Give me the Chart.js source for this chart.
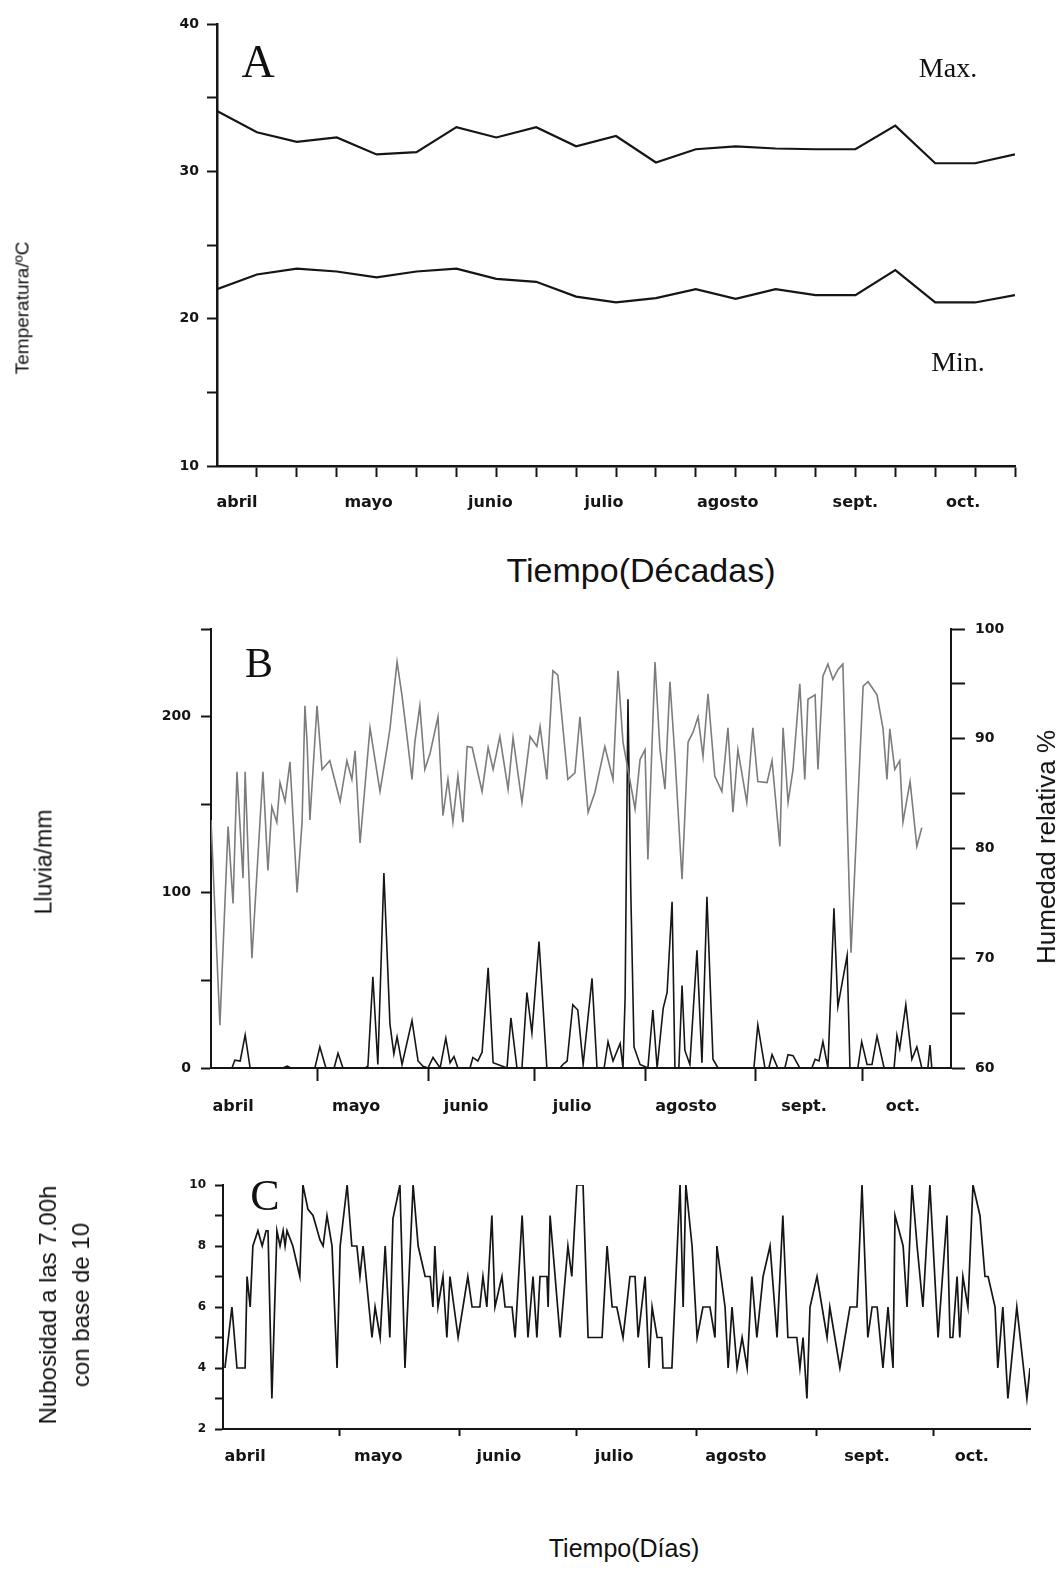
<!DOCTYPE html>
<html><head><meta charset="utf-8">
<script src="https://cdn.jsdelivr.net/npm/chart.js@4.4.0/dist/chart.umd.min.js"></script>
<style>
body{margin:0;background:#fff;width:1058px;height:1571px;position:relative;overflow:hidden;}
canvas{position:absolute;left:0;}
.t{position:absolute;white-space:nowrap;color:#111;transform:translate(-50%,-50%);line-height:1;}
.r{transform:translate(-50%,-50%) rotate(-90deg);}
.serif{font-family:'Liberation Serif','DejaVu Serif',serif;}
.sans{font-family:'Liberation Sans',Arial,sans-serif;}
</style></head><body>
<canvas id="cA" width="1058" height="530" style="top:0px;width:1058px;height:530px"></canvas>
<canvas id="cB" width="1058" height="540" style="top:600px;width:1058px;height:540px"></canvas>
<canvas id="cC" width="1058" height="360" style="top:1140px;width:1058px;height:360px"></canvas>

<div class="t serif" style="left:258px;top:62px;font-size:46px;">A</div>
<div class="t serif" style="left:948px;top:68px;font-size:28px;">Max.</div>
<div class="t serif" style="left:958px;top:362px;font-size:28px;">Min.</div>
<div class="t sans r" style="left:22px;top:308px;font-size:19px;">Temperatura/ºC</div>
<div class="t sans" style="left:641px;top:570px;font-size:34px;">Tiempo(Décadas)</div>

<div class="t serif" style="left:259px;top:663px;font-size:42px;">B</div>
<div class="t sans r" style="left:44px;top:862px;font-size:23px;">Lluvia/mm</div>
<div class="t sans r" style="left:1046px;top:847px;font-size:26px;">Humedad relativa %</div>

<div class="t serif" style="left:265px;top:1196px;font-size:44px;">C</div>
<div class="t sans r" style="left:64px;top:1305px;font-size:24px;line-height:33px;text-align:center;">Nubosidad a las 7.00h<br>con base de 10</div>
<div class="t sans" style="left:624px;top:1548px;font-size:25px;">Tiempo(Días)</div>

<script>
// ---------------- DATA ----------------
const months = ['abril','mayo','junio','julio','agosto','sept.','oct.'];

// Panel A: decades (index 0 = 1st decade of April ... 20 = 3rd decade of October)
const decadeIndex = [0,1,2,3,4,5,6,7,8,9,10,11,12,13,14,15,16,17,18,19,20];
const tempMax = [34.1,32.65,32.0,32.3,31.15,31.3,33.0,32.3,33.0,31.7,32.4,30.6,31.5,31.7,31.55,31.5,31.5,33.1,30.55,30.55,31.15];
const tempMin = [22.0,23.0,23.4,23.2,22.8,23.2,23.4,22.7,22.5,21.5,21.1,21.4,22.0,21.35,22.0,21.6,21.6,23.3,21.1,21.1,21.6];
const tempTicks = [10,20,30,40];
const tempMinorTicks = [15,25,35];

// Panel B: days from 1 April
const humDay = [0,2.5,4.8,6.2,7.3,9.0,9.6,11.5,14.6,16.0,17.1,18.5,19.4,20.8,22.2,24.2,25.6,26.4,27.0,27.8,29.8,31.2,33.4,36.3,38.2,39.6,40.5,41.9,44.7,47.5,49.5,50.3,52.3,53.7,55.1,56.5,57.3,58.7,60.1,61.6,63.8,65.2,66.6,68.0,69.4,70.8,72.0,73.4,76.2,77.9,79.3,81.2,83.5,84.9,87.4,89.7,91.6,92.5,94.4,96.1,97.5,100.3,102.3,103.7,106.0,107.9,110.7,113.0,114.4,115.8,119.2,120.6,122.0,122.8,124.8,126.2,127.6,129.0,130.4,132.4,134.1,135.5,136.9,138.3,139.7,141.6,143.6,145.3,146.7,148.1,150.6,152.3,153.7,156.3,157.7,159.9,160.8,162.2,163.6,165.5,166.9,167.8,169.8,170.6,172.0,173.4,174.8,176.2,177.6,179.9,183.3,184.7,187.2,188.9,190.0,190.8,192.2,193.6,194.5,196.5,198.4,199.8];
const humVal = [82.6,63.9,82,75,87,77.3,87,70,87,78,83.8,82.4,86,84.3,87.9,76,82.4,93,89.7,82.6,93,87.2,88,84.3,88,86.3,88.9,80.5,91,85.2,89.2,90.9,97,93.9,90.2,86.3,89.7,93,87.2,88.7,92,83,86.3,82.4,86.6,82.4,89.3,89.2,85.2,89.2,87.2,90.2,85.4,90.1,84.2,90.2,89.3,91.1,86.3,96.2,95.8,86.3,86.9,92,83.3,85.1,89.3,86.3,96.2,89.7,83.6,88.1,89,79,97,89,85.4,95.2,88.4,77.2,89.7,90.6,92,88.4,94.1,86.6,85.2,91,83.3,89,84.2,91,86.1,86,88,80.2,91,84.2,87.2,95,86.3,93.6,94,87.2,95.7,96.8,95.4,96.3,96.8,70.5,94.8,95.2,94,90.9,86.3,90.9,87.2,88,82.4,86.1,80.2,81.9];

const rainDay = [0,5.9,6.7,8.2,9.6,11.0,20.2,21.4,22.5,29.2,30.6,32.3,34.6,35.7,37.1,43.3,44.1,45.5,46.9,48.6,50.3,51.4,52.3,53.7,56.5,58.2,59.6,61.0,62.4,64.4,66.0,67.2,68.3,69.4,72.8,73.6,75.0,76.2,77.9,79.3,83.2,84.3,86.0,87.4,88.8,90.2,92.2,94.4,98.1,98.9,100.1,101.7,103.1,104.6,107.1,108.5,110.5,111.6,113.0,115.0,115.8,116.4,117.2,118.0,118.9,120.6,122.8,124.2,125.4,127.1,128.2,129.6,130.4,131.5,132.4,133.2,134.6,136.6,138.0,139.4,141.1,142.5,152.6,153.7,155.7,156.8,157.7,159.3,161.3,162.2,163.6,165.5,168.9,169.8,170.9,172.0,173.4,175.1,176.2,178.8,179.6,181.8,182.9,184.4,185.8,187.2,189.2,192.0,192.8,193.6,195.3,197.0,198.4,199.8,201.5,202.1,202.6];
const rainVal = [0,0,4.5,4,18.8,0,0,1,0,0,12,0,0,8.4,0,0,1,52,2,111,25,8,17.7,2,27,4,1,0,6,0,17,3,6.5,0,0,6,4,9,57,3,0,28.5,0,0,43,20,72,0,0,2,4,36,33,2,51,0,0,15,4,14,0,40,210,100,12,2,0,33,0,34,43,94.6,0,0,47,10,2,67,3,97.5,5,0,0,24.5,0,0,7.6,0,0,7.6,7,0,0,5,4,15,0,91,35,64,0,0,15,2,2,18,0,0,18.7,11,36,5,12,0,0,13,0];
const rainTicks = [0,100,200];
const rainMinorTicks = [50,150,250];
const humTicks = [60,70,80,90,100];
const humMinorTicks = [65,75,85,95];

// Panel C: cloudiness at 7.00h (0-10 scale)
const cloudDay = [0.5,2.3,3.6,5.7,6.2,7.0,7.7,9.0,10.1,11.1,11.6,12.6,13.9,14.7,15.5,16.0,16.5,18.0,19.8,20.6,21.9,23.2,25.0,25.8,26.8,28.1,29.4,30.2,32.0,33.2,34.5,35.3,36.1,38.4,39.2,40.5,41.8,43.0,43.8,45.6,46.9,49.0,50.3,52.1,53.4,54.1,54.6,55.4,56.7,57.7,58.5,60.6,63.1,64.2,66.2,67.0,68.0,69.3,70.1,71.9,72.7,74.5,75.3,77.1,78.6,79.9,80.9,81.7,83.5,83.8,84.3,86.9,88.9,89.9,91.2,92.8,94.1,97.7,99.0,100.3,101.5,103.1,104.9,106.2,107.0,108.8,109.8,110.6,111.9,113.1,113.4,115.7,117.8,118.6,119.3,120.9,122.2,123.7,125.5,126.8,127.3,129.4,130.2,131.2,132.5,133.8,135.1,136.3,137.6,139.2,141.0,142.8,144.3,145.6,147.9,148.7,149.5,150.5,151.3,153.1,154.4,155.7,156.4,157.7,159.0,161.6,163.4,164.7,166.2,167.3,168.6,170.1,171.4,172.7,173.2,175.3,176.3,177.6,178.9,180.4,182.2,184.3,186.6,187.4,188.1,189.2,189.9,190.7,192.0,193.3,195.1,196.4,197.2,199.0,199.7,201.0,202.3,204.6,207.2,208.0];
const cloudVal = [4,6,4,4,7,6,8,8.5,8,8.5,8.5,3,8.5,8,8.5,8,8.5,8,7,10,9.2,9,8.2,8,9,8,4,8,10,8,8,7,8,5,6,5,8,5,8.9,10,4,10,8,7,7,6,8,6,7,5,7,5,7,6,6,7,6,9,6,7,6,6,5,9,5,7,5,7,7,6,9,5,8,7,10,10,5,5,8,6,6,5,7,7,5,7,4,6,5,5,4,4,10,6,10,8,5,6,6,5,8,6,4,6,4,5,4,7,5,7,8,5,9,5,5,4,5,3,6,7,6,5,6,5,4,6,6,10,5,6,6,4,6,4,9,8,6,10,8,6,10,5,9,5,5,7,5,7,6,10,9,7,7,6,4,6,3,6,3,4];
const cloudTicks = [2,4,6,8,10];
const cloudMinorTicks = [3,5,7,9];

// ---------------- LAYOUT / STYLE ----------------
const INK = '#151515';
const monthTicksDays = [30,61,91,122,153,183];
const decadeTickMarks = [1,2,3,4,5,6,7,8,9,10,11,12,13,14,15,16,17,18,19,20];
const labelPosA = [0.5,3.8,6.85,9.7,12.8,16.0,18.7];
const labelPosB = [6.2,40.8,71.7,101.5,133.5,166.7,194.5];
const labelPosC = [5.7,40,71.1,100.8,132.2,166,193];
const numFont = {family:'DejaVu Sans', size:14, weight:'bold'};
const monFont = {family:'DejaVu Sans', size:16, weight:'bold'};

function xAxis(min, max, marks, labelPos, tickLen, pad, height, bw) {
  const all = marks.map(v => ({value:v, mark:true}))
    .concat(labelPos.map((v,i) => ({value:v, mark:false, name:months[i]})))
    .sort((a,b) => a.value - b.value);
  return {
    type:'linear', position:'bottom', min:min, max:max,
    afterBuildTicks: s => { s.ticks = all.map(t => Object.assign({}, t)); },
    ticks:{autoSkip:false, maxRotation:0, minRotation:0, padding:pad, color:INK, font:monFont,
      callback:(v,i,ts) => ts[i].mark ? '' : ts[i].name},
    grid:{display:true, drawOnChartArea:false, drawTicks:true, tickLength:tickLen, tickWidth:2,
      tickColor: c => (c.tick && c.tick.mark) ? INK : 'rgba(0,0,0,0)'},
    border:{display:true, color:INK, width:bw},
    afterFit: s => { s.height = height; }
  };
}
function yAxis(min, max, major, minor, pos, width, pad, tickLen, bw, font) {
  const all = major.map(v => ({value:v, lab:true})).concat(minor.map(v => ({value:v, lab:false})))
    .sort((a,b) => a.value - b.value);
  return {
    type:'linear', position:pos, min:min, max:max,
    afterBuildTicks: s => { s.ticks = all.map(t => Object.assign({}, t)); },
    ticks:{autoSkip:false, padding:pad, color:INK, font:font || numFont,
      callback:(v,i,ts) => ts[i].lab ? String(v) : ''},
    grid:{display:true, drawOnChartArea:false, drawTicks:true, tickLength:tickLen, tickWidth:2, tickColor:INK},
    border:{display:true, color:INK, width:bw},
    afterFit: s => { s.width = width; }
  };
}
const common = {
  responsive:false, animation:false,
  plugins:{legend:{display:false}, tooltip:{enabled:false}},
  elements:{point:{radius:0}, line:{tension:0}}
};
function pts(xs, ys){ return xs.map((x,i) => ({x:x, y:ys[i]})); }

// Panel A
new Chart(document.getElementById('cA'), {
  type:'line',
  data:{datasets:[
    {label:'Max.', data:pts(decadeIndex, tempMax), borderColor:INK, borderWidth:2.2},
    {label:'Min.', data:pts(decadeIndex, tempMin), borderColor:INK, borderWidth:2.2}
  ]},
  options:Object.assign({}, common, {
    layout:{padding:{left:0, top:24, right:43, bottom:0}},
    scales:{
      x: xAxis(0, 20, decadeTickMarks, labelPosA, 11, 16, 64, 2.5),
      y: yAxis(10, 40, tempTicks, tempMinorTicks, 'left', 217, 8, 10, 2.5)
    }
  })
});

// Panel B
new Chart(document.getElementById('cB'), {
  type:'line',
  data:{datasets:[
    {label:'Humedad relativa %', data:pts(humDay, humVal), yAxisID:'yR', borderColor:'#7c7c7c', borderWidth:1.6},
    {label:'Lluvia/mm', data:pts(rainDay, rainVal), yAxisID:'yL', borderColor:INK, borderWidth:1.6}
  ]},
  options:Object.assign({}, common, {
    layout:{padding:{left:0, top:29, right:0, bottom:0}},
    scales:{
      x: xAxis(0, 208, monthTicksDays, labelPosB, 13, 16, 72, 2),
      yL: yAxis(0, 250, rainTicks, rainMinorTicks, 'left', 211, 10, 10, 2),
      yR: yAxis(60, 100, humTicks, humMinorTicks, 'right', 107, 10, 14, 2)
    }
  })
});

// Panel C
new Chart(document.getElementById('cC'), {
  type:'line',
  data:{datasets:[
    {label:'Nubosidad', data:pts(cloudDay, cloudVal), borderColor:INK, borderWidth:1.7}
  ]},
  options:Object.assign({}, common, {
    layout:{padding:{left:0, top:45, right:28, bottom:0}},
    scales:{
      x: xAxis(0, 208, monthTicksDays, labelPosC, 7, 11, 71, 2),
      y: yAxis(2, 10, cloudTicks, cloudMinorTicks, 'left', 223, 9, 8, 2, {family:'DejaVu Sans', size:12, weight:'bold'})
    }
  })
});
</script>
</body></html>
